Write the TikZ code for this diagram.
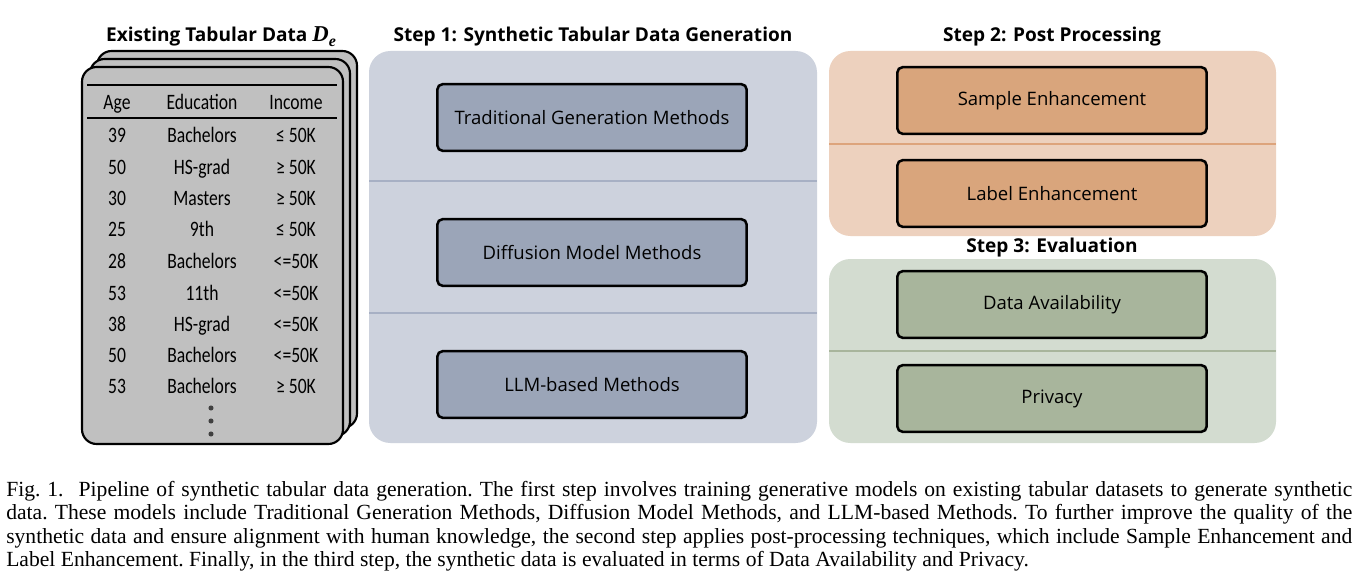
\documentclass[tikz,border=0pt]{standalone}
\usepackage{fontspec}
\usepackage{amsmath}
\setmainfont{Open Sans}
\newfontfamily\tabfont[FakeStretch=0.80]{Carlito}
\newfontfamily\capfont{Liberation Serif}
\definecolor{cardgray}{HTML}{C0C0C0}
\definecolor{sonebg}{HTML}{CDD2DD}
\definecolor{sonebox}{HTML}{9BA5B8}
\definecolor{sonediv}{HTML}{A7B0C4}
\definecolor{stwobg}{HTML}{EDD1BE}
\definecolor{stwobox}{HTML}{D9A57C}
\definecolor{stwodiv}{HTML}{DDA47C}
\definecolor{sthreebg}{HTML}{D3DCD0}
\definecolor{sthreebox}{HTML}{A8B59C}
\definecolor{sthreediv}{HTML}{A8B59C}
\begin{document}
\begin{tikzpicture}[x=0.75pt,y=-0.75pt,
  cardbox/.style={draw=black,line width=1.6pt,fill=cardgray,rounded corners=11pt},
  panelbg/.style={rounded corners=16pt},
  methodbox/.style={draw=black,line width=1.9pt,rounded corners=4pt,minimum width=232pt,minimum height=50pt,inner sep=0pt,font=\fontsize{13.9}{16}\selectfont},
  ttl/.style={font=\bfseries\fontsize{14.3}{17}\selectfont,inner sep=0pt},
  tcell/.style={font=\tabfont\fontsize{16.5}{18}\selectfont,inner sep=0pt,anchor=base},
  trule/.style={line width=1.5pt,black},
  divline/.style={line width=1.6pt}]
\useasboundingbox (0,0) rectangle (1371,588);
\fill[white] (0,0) rectangle (1371,588);

% ---- existing data cards
\draw[cardbox] (97,51) rectangle (357,428);
\draw[cardbox] (90,59) rectangle (350,436);
\draw[cardbox] (82,67) rectangle (343,444);
\node[ttl] (t0) at (221,37) {Existing Tabular Data {\capfont\bfseries\itshape\fontsize{17}{17}\selectfont D\raisebox{-0.22em}{\fontsize{12}{12}\selectfont e}}};
\draw[trule] (87,85) -- (337,85);
\draw[trule] (87,118) -- (337,118);
\node[tcell] (h1) at (117,110) {Age};
\node[tcell] (h2) at (202,110) {Education};
\node[tcell] (h3) at (296,110) {Income};
\foreach \yy/\a/\b/\c [count=\i] in {143/39/Bachelors/{≤ 50K},175/50/HS-grad/{≥ 50K},206/30/Masters/{≥ 50K},237/25/9th/{≤ 50K},268/28/Bachelors/{<=50K},300/53/11th/{<=50K},331/38/HS-grad/{<=50K},362/50/Bachelors/{<=50K},393/53/Bachelors/{≥ 50K}}{
  \node[tcell] (a\i) at (117,\yy) {\a};
  \node[tcell] (b\i) at (202,\yy) {\b};
  \node[tcell] (c\i) at (296,\yy) {\c};
}
\foreach \yy in {408,421,434}{\fill[black!75] (211,\yy) circle (1.9pt);}

% ---- Step 1
\node[ttl] (t1) at (593,37) {Step 1: Synthetic Tabular Data Generation};
\fill[sonebg,panelbg] (369,51) rectangle (817,443);
\draw[divline,sonediv] (369,181) -- (817,181);
\draw[divline,sonediv] (369,313) -- (817,313);
\node[methodbox,fill=sonebox] (m1) at (592,117.5) {Traditional Generation Methods};
\node[methodbox,fill=sonebox] (m2) at (592,252.5) {Diffusion Model Methods};
\node[methodbox,fill=sonebox] (m3) at (592,384.5) {LLM-based Methods};

% ---- Step 2
\node[ttl] (t2) at (1052,37) {Step 2: Post Processing};
\fill[stwobg,panelbg] (829,51) rectangle (1276,236);
\draw[divline,stwodiv] (829,144) -- (1276,144);
\node[methodbox,fill=stwobox] (p1) at (1052,100.5) {Sample Enhancement};
\node[methodbox,fill=stwobox] (p2) at (1052,193.5) {Label Enhancement};

% ---- Step 3
\node[ttl] (t3) at (1052,248) {Step 3: Evaluation};
\fill[sthreebg,panelbg] (829,259) rectangle (1276,443);
\draw[divline,sthreediv] (829,351) -- (1276,351);
\node[methodbox,fill=sthreebox] (e1) at (1052,304.5) {Data Availability};
\node[methodbox,fill=sthreebox] (e2) at (1052,398.5) {Privacy};

% ---- caption
\node[anchor=north west,inner sep=0pt,text width=1009.5pt,align=justify,
  font=\capfont\fontsize{16.2}{17.5}\selectfont\frenchspacing] (cap) at (6,481)
{Fig.~1.\hspace{0.7em}Pipeline of synthetic tabular data generation. The first step involves training generative models on existing tabular datasets to generate synthetic\linebreak
data. These models include Traditional Generation Methods, Diffusion Model Methods, and LLM-based Methods. To further improve the quality of the\linebreak
synthetic data and ensure alignment with human knowledge, the second step applies post-processing techniques, which include Sample Enhancement and\linebreak
Label Enhancement. Finally, in the third step, the synthetic data is evaluated in terms of Data Availability and Privacy.};
\end{tikzpicture}
\end{document}
